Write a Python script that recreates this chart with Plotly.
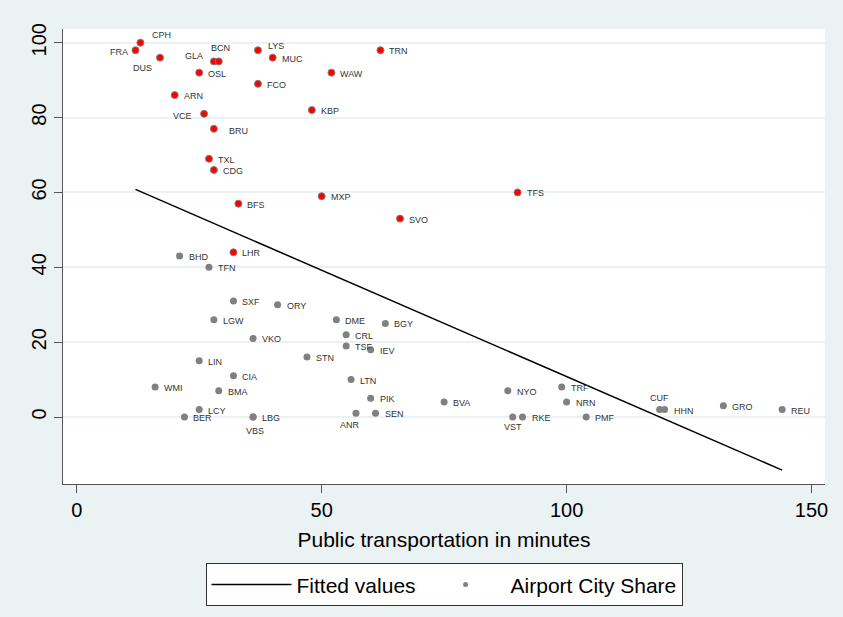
import plotly.graph_objects as go

# Airports with a high city share (drawn in red)
red_codes = ["CPH", "FRA", "DUS", "GLA", "BCN", "LYS", "MUC", "TRN", "OSL", "WAW", "FCO",
             "ARN", "VCE", "KBP", "BRU", "TXL", "CDG", "BFS", "MXP", "SVO", "LHR", "TFS"]
red_minutes = [13, 12, 17, 28, 29, 37, 40, 62, 25, 52, 37,
               20, 26, 48, 28, 27, 28, 33, 50, 66, 32, 90]
red_share = [100, 98, 96, 95, 95, 98, 96, 98, 92, 92, 89,
             86, 81, 82, 77, 69, 66, 57, 59, 53, 44, 60]

# Remaining airports (drawn in grey)
gray_codes = ["BHD", "TFN", "SXF", "ORY", "LGW", "VKO", "DME", "BGY", "CRL", "TSF",
              "IEV", "STN", "LIN", "CIA", "LTN", "WMI", "BMA", "PIK", "BVA", "LCY",
              "BER", "LBG", "VBS", "ANR", "SEN", "NYO", "TRF", "NRN", "VST", "RKE",
              "PMF", "CUF", "HHN", "GRO", "REU"]
gray_minutes = [21, 27, 32, 41, 28, 36, 53, 63, 55, 55,
                60, 47, 25, 32, 56, 16, 29, 60, 75, 25,
                22, 36, 36, 57, 61, 88, 99, 100, 89, 91,
                104, 119, 120, 132, 144]
gray_share = [43, 40, 31, 30, 26, 21, 26, 25, 22, 19,
              18, 16, 15, 11, 10, 8, 7, 5, 4, 2,
              0, 0, 0, 1, 1, 7, 8, 4, 0, 0,
              0, 2, 2, 3, 2]

# Linear fit end points
fit_minutes = [12, 144]
fit_share = [60.8, -14.2]

x_ticks = [0, 50, 100, 150]
y_ticks = [0, 20, 40, 60, 80, 100]

FONT = "Liberation Sans, Arial, sans-serif"
BG = "#EAF2F3"
AXIS = "#555555"
GREY = "#808080"

# label placement: (xanchor, dx px, dy px downward); default is right of the marker
label_place = {
    "CPH": ("left", 10, -8),
    "FRA": ("right", -6, 2),
    "DUS": ("right", -6, 10),
    "GLA": ("right", -9, -5),
    "BCN": ("center", 2, -13),
    "LYS": ("left", 8, -4),
    "VCE": ("right", -10, 2),
    "BRU": ("left", 13, 2),
    "ANR": ("center", -6, 12),
    "VBS": ("center", 2, 14),
    "VST": ("center", 0, 10),
    "CUF": ("center", 0, -12),
}
default_place = ("left", 7, 1)

fig = go.Figure()

fig.add_trace(go.Scatter(
    x=fit_minutes, y=fit_share, mode="lines", name="Fitted values",
    line=dict(color="black", width=1.5),
))

fig.add_trace(go.Scatter(
    x=gray_minutes, y=gray_share, mode="markers", name="Airport City Share",
    marker=dict(color=GREY, size=7, line=dict(width=0)),
    showlegend=False,
))

fig.add_trace(go.Scatter(
    x=red_minutes, y=red_share, mode="markers", name="Airport City Share (high)",
    marker=dict(color="#FF0000", size=7, line=dict(color=GREY, width=1)),
    showlegend=False,
))

# legend entry for the airport markers
fig.add_trace(go.Scatter(
    x=[None], y=[None], mode="markers", name="Airport City Share",
    marker=dict(color=GREY, size=5),
))

annotations = []
for codes, xs, ys in ((red_codes, red_minutes, red_share),
                      (gray_codes, gray_minutes, gray_share)):
    for c, xv, yv in zip(codes, xs, ys):
        anchor, dx, dy = label_place.get(c, default_place)
        annotations.append(dict(
            x=xv, y=yv, text=c, showarrow=False,
            xanchor=anchor, yanchor="middle",
            xshift=dx, yshift=-dy,
            font=dict(family=FONT, size=9, color="#333333"),
        ))

fig.update_layout(
    width=843, height=617,
    margin=dict(l=63, r=18, t=29, b=133),
    paper_bgcolor=BG, plot_bgcolor="white",
    font=dict(family=FONT, color="black"),
    annotations=annotations,
    showlegend=True,
    legend=dict(
        orientation="h", xref="paper", yref="container",
        x=0.5, xanchor="center", y=0.087, yanchor="top",
        bgcolor="white", bordercolor="#333333", borderwidth=1,
        font=dict(family=FONT, size=21, color="black"),
        itemwidth=80,
    ),
    xaxis=dict(
        range=[-2.8, 152.75], tickvals=x_ticks,
        showline=True, linecolor=AXIS, linewidth=1,
        ticks="outside", ticklen=8, tickcolor=AXIS,
        showgrid=False, zeroline=False,
        tickfont=dict(family=FONT, size=20, color="black"),
        title=dict(text="Public transportation in minutes",
                   font=dict(family=FONT, size=21, color="black"), standoff=12),
    ),
    yaxis=dict(
        range=[-17.9, 103.66], tickvals=y_ticks, tickangle=-90,
        showline=True, linecolor=AXIS, linewidth=1,
        ticks="outside", ticklen=8, tickcolor=AXIS,
        showgrid=True, gridcolor=BG, gridwidth=1.5, zeroline=False,
        tickfont=dict(family=FONT, size=20, color="black"),
    ),
)

fig.write_html("out.html")
